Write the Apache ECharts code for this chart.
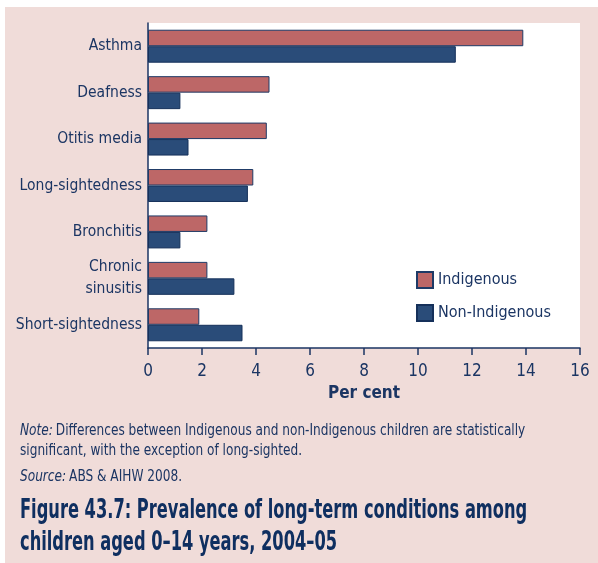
<!DOCTYPE html>
<html>
<head>
<meta charset="utf-8">
<script src="https://cdn.jsdelivr.net/npm/echarts@6/dist/echarts.min.js"></script>
<style>
html,body{margin:0;padding:0;background:#fff;}
#panel{position:absolute;left:5px;top:7px;width:593px;height:556px;background:#f0dcd9;}
#chart{position:absolute;left:0;top:0;width:598px;height:563px;}
</style>
</head>
<body>
<div id="panel"></div>
<div id="chart"></div>
<script>
const categories = ["Asthma", "Deafness", "Otitis media", "Long-sightedness", "Bronchitis", "Chronic\nsinusitis", "Short-sightedness"];
const indigenous = [13.9, 4.5, 4.4, 3.9, 2.2, 2.2, 1.9];
const nonIndigenous = [11.4, 1.2, 1.5, 3.7, 1.2, 3.2, 3.5];
const seriesNames = ["Indigenous", "Non-Indigenous"];
const xTicks = [0, 16, 2];

const FONT = "'Liberation Sans Narrow', 'DejaVu Sans Condensed', 'Roboto Condensed', sans-serif";
const NAVY = "#1b3563";
const TNAVY = "#0f2f60";

const chart = echarts.init(document.getElementById('chart'), null, {renderer: 'canvas'});
chart.setOption({
  backgroundColor: 'transparent',
  animation: false,
  textStyle: {fontFamily: FONT, color: NAVY},
  grid: {left: 148, right: 18, top: 23, bottom: 215, show: true, backgroundColor: '#ffffff', borderWidth: 0},
  legend: {
    orient: 'vertical', left: 411, top: 266, itemWidth: 16, itemHeight: 16, itemGap: 15,
    icon: 'rect',
    textStyle: {fontFamily: FONT, fontSize: 16, color: NAVY},
    data: seriesNames
  },
  xAxis: {
    type: 'value', min: xTicks[0], max: xTicks[1], interval: xTicks[2],
    axisLine: {show: true, lineStyle: {color: NAVY, width: 1.5}},
    axisTick: {show: true, length: 7, lineStyle: {color: NAVY, width: 1.5}},
    splitLine: {show: false},
    axisLabel: {fontFamily: FONT, fontSize: 17, color: NAVY, margin: 15},
    name: 'Per cent', nameLocation: 'middle', nameGap: 36,
    nameTextStyle: {fontFamily: FONT, fontSize: 17, fontWeight: 'bold', color: NAVY}
  },
  yAxis: {
    type: 'category', data: categories, inverse: true,
    axisLine: {show: true, lineStyle: {color: NAVY, width: 1.5}},
    axisTick: {show: false},
    axisLabel: {fontFamily: FONT, fontSize: 15.5, color: NAVY, margin: 6, lineHeight: 22}
  },
  series: [
    {name: seriesNames[0], type: 'bar', data: indigenous, barGap: '0%', barCategoryGap: '29%',
     itemStyle: {color: '#bd6767', borderColor: '#1e3a66', borderWidth: 1}},
    {name: seriesNames[1], type: 'bar', data: nonIndigenous, barGap: '0%', barCategoryGap: '29%',
     itemStyle: {color: '#2a4c79', borderColor: '#15305a', borderWidth: 1}}
  ],
  graphic: [
    {type: 'text', x: 20, y: 431, scaleX: 0.9, style: {
      verticalAlign: 'middle',
      rich: {i: {fontStyle: 'italic', fontFamily: FONT, fontSize: 15, fill: NAVY}, n: {fontFamily: FONT, fontSize: 15, fill: NAVY}},
      text: '{i|Note:} {n|Differences between Indigenous and non-Indigenous children are statistically}'
    }},
    {type: 'text', x: 20, y: 451, scaleX: 0.9, style: {verticalAlign: 'middle', text: 'significant, with the exception of long-sighted.', font: '15px ' + FONT, fill: NAVY}},
    {type: 'text', x: 20, y: 477, scaleX: 0.9, style: {
      verticalAlign: 'middle',
      rich: {i: {fontStyle: 'italic', fontFamily: FONT, fontSize: 15, fill: NAVY}, n: {fontFamily: FONT, fontSize: 15, fill: NAVY}},
      text: '{i|Source:} {n|ABS & AIHW 2008.}'
    }},
    {type: 'text', x: 20, y: 511, scaleX: 0.695, style: {verticalAlign: 'middle', text: 'Figure 43.7: Prevalence of long-term conditions among', font: 'bold 26px ' + FONT, fill: TNAVY}},
    {type: 'text', x: 20, y: 543, scaleX: 0.695, style: {verticalAlign: 'middle', text: 'children aged 0\u201314 years, 2004\u201305', font: 'bold 26px ' + FONT, fill: TNAVY}}
  ]
});
</script>
</body>
</html>
